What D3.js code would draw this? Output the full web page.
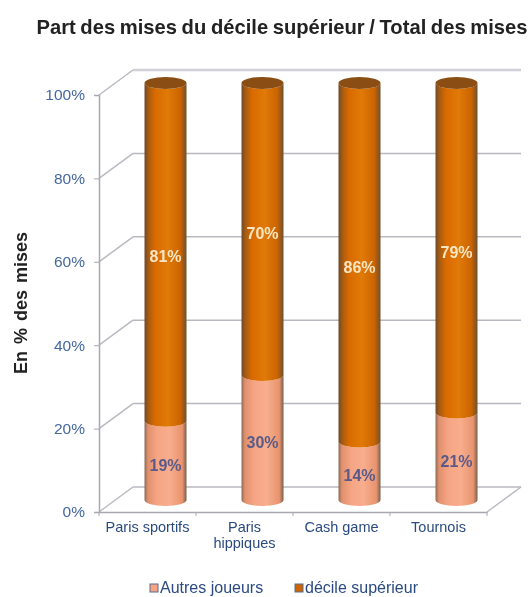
<!DOCTYPE html>
<html>
<head>
<meta charset="utf-8">
<script src="https://cdn.jsdelivr.net/npm/d3@7"></script>
<style>
html, body { margin: 0; padding: 0; background: #fff; }
svg { display: block; filter: blur(0.7px); font-family: "Liberation Sans", Arial, sans-serif; }
</style>
</head>
<body>
<svg id="chart"></svg>
<script>
const categories = [["Paris sportifs"], ["Paris", "hippiques"], ["Cash game"], ["Tournois"]];
const autres = [19, 30, 14, 21];
const decile = [81, 70, 86, 79];
const yTicks = [0, 20, 40, 60, 80, 100];
const seriesNames = ["Autres joueurs", "décile supérieur"];

const width = 528, height = 597;
const x0 = 99, x1 = 487, yBottom = 512, yTop = 95;
const depthX = 34, depthY = 25;   // 3d wall offset
const barShiftX = 18, barShiftY = 12;
const rx = 21, ry = 6;

const svg = d3.select("#chart").attr("width", width).attr("height", height);

const y = d3.scaleLinear().domain([0, 100]).range([yBottom, yTop]);
const x = d3.scaleBand().domain(d3.range(categories.length)).range([x0, x1]);

const rows = categories.map((c, i) => ({ i, autres: autres[i], decile: decile[i] }));
const stacked = d3.stack().keys(["autres", "decile"])(rows);

// gradients for the cylinders
const defs = svg.append("defs");
function cylGradient(id, stops) {
    const g = defs.append("linearGradient").attr("id", id);
    stops.forEach(s => g.append("stop").attr("offset", s[0]).attr("stop-color", s[1]));
}
cylGradient("gradDecile", [[0, "#70492a"], [0.1, "#a85c10"], [0.25, "#d96a00"], [0.55, "#e07a08"], [0.85, "#cc6400"], [1, "#6e5030"]]);
cylGradient("gradAutres", [[0, "#8a6a58"], [0.08, "#e0906c"], [0.3, "#f5a584"], [0.6, "#f8ad8c"], [0.9, "#e8946e"], [1, "#75604f"]]);

// walls
const wallColor = "#b9b9c2";
const walls = svg.append("g").attr("fill", "none").attr("stroke", wallColor).attr("stroke-width", 1.5);
walls.selectAll("line.grid").data(yTicks).enter().append("line")
    .attr("class", "grid")
    .attr("x1", x0 + depthX).attr("x2", x1 + depthX)
    .attr("y1", d => y(d) - depthY).attr("y2", d => y(d) - depthY)
    .attr("stroke-width", d => d === 100 ? 2.5 : 1.5)
    .attr("stroke", d => d === 100 ? "#d0d0da" : wallColor);
walls.selectAll("line.side").data(yTicks).enter().append("line")
    .attr("class", "side")
    .attr("x1", x0).attr("x2", x0 + depthX)
    .attr("y1", d => y(d)).attr("y2", d => y(d) - depthY);
walls.append("line").attr("x1", x1).attr("x2", x1 + depthX)
    .attr("y1", yBottom).attr("y2", yBottom - depthY);

// axes
const yAxis = d3.axisLeft(y).tickValues(yTicks).tickFormat(d => d + "%").tickSize(5).tickPadding(9);
const gy = svg.append("g").attr("transform", `translate(${x0},0)`).call(yAxis);
gy.select(".domain").attr("stroke", "#a8a8b2").attr("stroke-width", 1.5);
gy.selectAll("line").attr("stroke", "#a8a8b2");
gy.selectAll("text").attr("font-size", 15.5).attr("font-family", "Liberation Sans").attr("fill", "#44689e");

const xAxis = d3.axisBottom(x).tickSize(0).tickFormat("");
const gx = svg.append("g").attr("transform", `translate(0,${yBottom})`).call(xAxis);
gx.select(".domain").attr("stroke", "#a8a8b2").attr("stroke-width", 1.5);
gx.selectAll("line.sep").data(d3.range(categories.length + 1)).enter().append("line")
    .attr("class", "sep")
    .attr("x1", d => x0 + d * x.bandwidth()).attr("x2", d => x0 + d * x.bandwidth())
    .attr("y1", 0).attr("y2", 4).attr("stroke", "#a8a8b2");

// category labels
const catLabels = svg.append("g").attr("text-anchor", "middle").attr("font-size", 14.5)
    .attr("fill", "#2a4a80");
categories.forEach((lines, i) => {
    const t = catLabels.append("text")
        .attr("x", x(i) + x.bandwidth() / 2)
        .attr("y", 532);
    lines.forEach((l, k) => t.append("tspan")
        .attr("x", x(i) + x.bandwidth() / 2)
        .attr("dy", k ? 15.5 : 0)
        .text(l));
});

// cylinders, bottom segment first
const cx = i => x(i) + x.bandwidth() / 2 + barShiftX;
const fills = ["url(#gradAutres)", "url(#gradDecile)"];
stacked.forEach((serie, s) => {
    svg.append("g").selectAll("path").data(serie).enter().append("path")
        .attr("fill", fills[s])
        .attr("d", (d, i) => {
            const c = cx(i), yb = y(d[0]) - barShiftY, yt = y(d[1]) - barShiftY;
            return `M${c - rx},${yt}L${c - rx},${yb}A${rx},${ry} 0 0 0 ${c + rx},${yb}L${c + rx},${yt}A${rx},${ry} 0 0 1 ${c - rx},${yt}Z`;
        });
});

// top cap
svg.append("g").selectAll("ellipse").data(rows).enter().append("ellipse")
    .attr("cx", d => cx(d.i))
    .attr("cy", y(100) - barShiftY)
    .attr("rx", rx).attr("ry", ry)
    .attr("fill", "#8a4e14");

// value labels
const labels = svg.append("g").attr("text-anchor", "middle").attr("font-size", 16).attr("font-weight", "bold");
stacked.forEach((serie, s) => {
    labels.append("g").selectAll("text").data(serie).enter().append("text")
        .attr("x", (d, i) => cx(i))
        .attr("y", d => y((d[0] + d[1]) / 2) - barShiftY + 10.5)
        .attr("fill", s === 0 ? "#5a5a8a" : "#fbe6c4")
        .text(d => (d[1] - d[0]) + "%");
});

// title and axis title
svg.append("text").attr("x", 282).attr("y", 34).attr("text-anchor", "middle")
    .attr("font-size", 20.2).attr("font-weight", "bold").attr("fill", "#222")
    .attr("word-spacing", -1)
    .text("Part des mises du décile supérieur / Total des mises");
svg.append("text").attr("transform", "translate(27,303) rotate(-90)").attr("text-anchor", "middle")
    .attr("font-size", 18).attr("font-weight", "bold").attr("fill", "#222")
    .attr("word-spacing", 2)
    .text("En % des mises");

// legend
const legendX = [150, 295];
const legendColors = ["#f5a584", "#cc6600"];
const legend = svg.append("g").selectAll("g").data(seriesNames).enter().append("g")
    .attr("transform", (d, i) => `translate(${legendX[i]},588)`);
legend.append("rect").attr("x", 0).attr("y", -4).attr("width", 8).attr("height", 8)
    .attr("fill", (d, i) => legendColors[i]).attr("stroke", "#5a6a90");
legend.append("text").attr("x", 10).attr("y", 5).attr("font-size", 16).attr("fill", "#2a4a80")
    .text(d => d);
</script>
</body>
</html>
